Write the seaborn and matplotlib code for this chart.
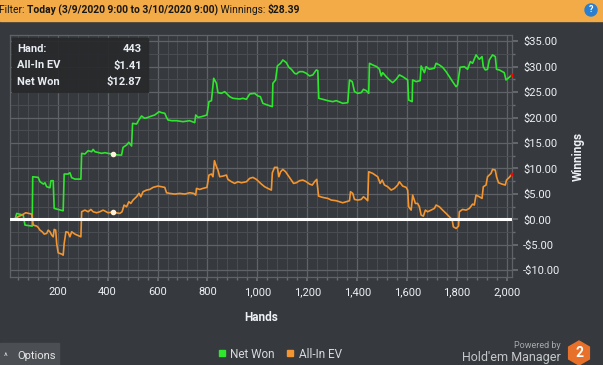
import matplotlib
matplotlib.use("Agg")
import matplotlib.pyplot as plt
import matplotlib.ticker as mticker
from matplotlib.lines import Line2D
from matplotlib.patches import Rectangle, RegularPolygon, Circle
import pandas as pd
import seaborn as sns

# data
NET_WON_HANDS = [9, 29, 36, 62, 69, 98, 100, 122, 129, 143, 149, 156, 169, 173, 182, 186, 202, 222,
                 226, 242, 249, 256, 269, 293, 296, 309, 322, 336, 342, 349, 376, 389, 402, 418, 442,
                 456, 462, 476, 485, 496, 500, 516, 525, 536, 549, 562, 576, 589, 606, 616, 629, 636,
                 642, 656, 676, 702, 729, 749, 753, 762, 776, 798, 806, 816, 825, 836, 842, 856, 869,
                 876, 889, 902, 929, 942, 956, 969, 989, 1002, 1012, 1022, 1036, 1060, 1062, 1073,
                 1080, 1093, 1102, 1116, 1126, 1136, 1149, 1156, 1169, 1182, 1196, 1209, 1222, 1236,
                 1242, 1246, 1262, 1282, 1302, 1316, 1342, 1362, 1369, 1380, 1389, 1402, 1416, 1425,
                 1436, 1446, 1449, 1462, 1478, 1489, 1496, 1502, 1516, 1529, 1542, 1556, 1569, 1582,
                 1602, 1606, 1620, 1622, 1636, 1652, 1656, 1669, 1676, 1689, 1709, 1716, 1729, 1742,
                 1756, 1769, 1782, 1796, 1802, 1812, 1829, 1842, 1853, 1862, 1876, 1889, 1900, 1905,
                 1913, 1922, 1929, 1942, 1953, 1958, 1969, 1989, 1996, 2009, 2020]
NET_WON = [0.0, 0.0, 1.18, 0.85, -1.11, -1.31, 8.38, 8.25, 7.40, 6.94, 7.20, 6.42, 6.22, 7.60, 7.60,
           2.16, 1.96, 1.70, 8.91, 8.91, 9.17, 8.19, 7.92, 7.92, 12.97, 12.84, 13.49, 13.29, 13.75,
           13.29, 12.97, 13.10, 12.97, 12.84, 12.64, 12.64, 14.15, 14.60, 15.13, 14.41, 18.86, 18.73,
           19.52, 20.30, 19.84, 20.04, 20.30, 20.50, 21.15, 20.96, 20.83, 20.04, 19.52, 19.38, 19.38,
           19.19, 19.38, 18.99, 20.50, 20.04, 20.17, 20.50, 23.12, 23.31, 27.70, 26.72, 24.89, 24.75,
           25.08, 24.75, 24.10, 23.77, 23.64, 23.77, 23.58, 24.62, 24.75, 24.23, 24.10, 22.79, 22.53,
           22.13, 26.72, 27.37, 30.12, 30.65, 31.30, 30.78, 29.86, 29.47, 28.68, 28.55, 29.01, 29.01,
           28.68, 28.16, 28.36, 29.34, 29.21, 23.77, 23.58, 23.31, 23.12, 23.31, 22.79, 22.92, 27.37,
           27.05, 25.08, 24.75, 24.89, 25.54, 25.28, 24.75, 30.65, 30.32, 29.99, 29.47, 28.16, 28.81,
           28.03, 27.37, 26.85, 27.50, 28.36, 28.03, 27.37, 23.44, 23.12, 27.37, 27.05, 27.24, 30.12,
           28.81, 29.99, 29.47, 29.67, 30.65, 30.32, 29.86, 29.01, 28.03, 27.05, 26.06, 26.39, 29.86,
           29.99, 29.47, 30.98, 30.65, 32.29, 31.43, 31.96, 29.99, 29.34, 29.47, 31.30, 32.29, 31.96,
           29.47, 29.34, 28.81, 27.37, 27.90, 28.39]

ALLIN_HANDS = [9, 29, 40, 56, 72, 96, 102, 116, 122, 129, 138, 146, 156, 162, 169, 176, 182, 186, 192,
               196, 202, 216, 222, 226, 233, 242, 249, 256, 269, 293, 296, 309, 322, 333, 342, 356,
               369, 382, 402, 418, 449, 458, 466, 476, 485, 493, 502, 516, 526, 533, 542, 556, 569,
               582, 602, 616, 629, 636, 649, 669, 689, 709, 729, 745, 753, 756, 769, 782, 798, 806,
               816, 822, 828, 836, 842, 849, 862, 876, 882, 896, 909, 922, 936, 956, 969, 982, 996,
               1006, 1016, 1029, 1042, 1056, 1060, 1069, 1080, 1086, 1093, 1102, 1113, 1122, 1136,
               1145, 1156, 1169, 1182, 1196, 1209, 1220, 1229, 1238, 1245, 1262, 1282, 1296, 1316,
               1342, 1356, 1369, 1373, 1382, 1389, 1402, 1416, 1425, 1433, 1442, 1446, 1462, 1482,
               1492, 1500, 1509, 1522, 1536, 1549, 1562, 1569, 1582, 1596, 1602, 1606, 1616, 1622,
               1633, 1642, 1649, 1656, 1665, 1673, 1682, 1696, 1709, 1716, 1729, 1742, 1756, 1769,
               1780, 1785, 1796, 1806, 1809, 1822, 1836, 1849, 1862, 1869, 1876, 1889, 1900, 1905,
               1916, 1922, 1936, 1942, 1953, 1958, 1966, 1980, 1993, 1998, 2009, 2020]
ALLIN_EV = [0.0, 0.0, 0.52, 0.85, 1.31, 1.05, -1.11, -1.31, -1.57, -2.10, -2.42, -2.88, -2.75, -2.10,
            -2.42, -3.08, -3.41, -1.96, -2.10, -4.72, -6.55, -6.81, -7.01, -4.72, -2.42, -2.55, -3.41,
            -2.42, -2.88, -3.41, 1.51, 1.83, 1.51, 1.96, 1.51, 1.31, 1.51, 1.83, 1.31, 1.44, 1.18,
            1.51, 2.82, 2.49, 3.47, 3.14, 3.80, 4.45, 5.11, 4.45, 5.44, 5.76, 5.89, 6.29, 6.55, 6.42,
            6.29, 5.24, 5.11, 4.98, 5.11, 4.98, 5.24, 5.11, 4.78, 6.09, 5.89, 6.09, 6.29, 8.71, 8.91,
            8.38, 11.53, 10.35, 9.69, 8.38, 8.51, 8.71, 7.86, 7.40, 7.07, 7.40, 7.20, 7.40, 8.06,
            8.25, 7.86, 7.40, 6.94, 6.42, 6.09, 5.76, 9.17, 10.22, 10.22, 8.38, 9.36, 9.82, 9.36,
            8.71, 7.73, 7.07, 7.20, 7.60, 7.73, 7.40, 6.94, 6.75, 7.40, 7.86, 4.58, 4.32, 4.13,
            3.80, 3.67, 3.27, 3.47, 3.67, 5.44, 5.11, 3.93, 3.80, 3.93, 4.45, 4.13, 3.67, 9.36,
            9.04, 8.38, 7.07, 7.73, 6.75, 6.42, 5.76, 6.09, 6.75, 7.40, 6.55, 6.29, 5.76, 2.49,
            1.83, 4.78, 3.14, 3.14, 2.49, 0.85, 0.65, 1.83, 1.51, 1.83, 2.16, 2.82, 2.49, 1.83,
            1.18, 0.52, 0.0, -1.44, -1.77, -1.31, 1.51, 1.96, 1.83, 2.16, 3.01, 2.82, 4.78, 4.45,
            4.13, 6.42, 6.75, 8.38, 9.04, 9.82, 9.69, 8.38, 7.20, 6.94, 6.75, 7.73, 8.25, 8.91]

X_TICKS = [200, 400, 600, 800, 1000, 1200, 1400, 1600, 1800, 2000]
Y_TICKS = [-10, -5, 0, 5, 10, 15, 20, 25, 30, 35]
SERIES = ["Net Won", "All-In EV"]

HOVER_HAND = 443      # value shown in the tooltip
HOVER_X = 421         # where the markers sit in the picture
HOVER_EV = 1.41
HOVER_NET = 12.87
WINNINGS = 28.39

W, H = 603, 365
BG = "#36393d"
GREEN = "#2ee62e"
ORANGE = "#f39530"
FONT = ["Roboto", "DejaVu Sans"]


def px(x, y):
    return x / W, 1 - y / H


def inch(x, y):
    return x / 100, (H - y) / 100


def chain_text(fig, x, y, parts, **kw):
    renderer = fig.canvas.get_renderer()
    xf, yf = px(x, y)
    for s, weight in parts:
        t = fig.text(xf, yf, s, fontweight=weight, ha="left", va="center", **kw)
        xf = t.get_window_extent(renderer).x1 / W


sns.set_theme(style="dark")
plt.rcParams["font.family"] = FONT

fig = plt.figure(figsize=(W / 100, H / 100), dpi=100)
fig.patch.set_facecolor(BG)

# top filter bar
fig.add_artist(Rectangle(px(0, 21), 1, 21 / H, transform=fig.transFigure, color="#f2ab47", zorder=0))
chain_text(fig, -1, 10, [("Filter: ", "normal"), ("Today (3/9/2020 9:00 to 3/10/2020 9:00)", "bold"),
                         (" Winnings: ", "normal"), (f"${WINNINGS:.2f}", "bold")],
           fontsize=7.4, color="#161616")
fig.add_artist(Circle(inch(591, 10), 0.06, transform=fig.dpi_scale_trans, color="#2a7fd0"))
fig.text(*px(591, 10), "?", ha="center", va="center", color="white", fontsize=6.5, fontweight="bold")

ax = fig.add_axes([10 / W, 1 - 277 / H, 502 / W, 242 / H])
ax.set_facecolor(BG)

nw = pd.DataFrame({"hand": NET_WON_HANDS, "won": NET_WON})
ev = pd.DataFrame({"hand": ALLIN_HANDS, "won": ALLIN_EV})
sns.lineplot(data=nw, x="hand", y="won", ax=ax, color=GREEN, linewidth=1.2,
             sort=False, estimator=None, legend=False, zorder=3)
sns.lineplot(data=ev, x="hand", y="won", ax=ax, color=ORANGE, linewidth=1.2,
             sort=False, estimator=None, legend=False, zorder=3)
ax.axhline(0, color="white", linewidth=2.2, zorder=4)

ax.scatter([HOVER_X, HOVER_X], [HOVER_NET, HOVER_EV], s=9, color="#fff3dc", zorder=5)
ax.scatter([NET_WON_HANDS[-1], ALLIN_HANDS[-1]], [NET_WON[-1], ALLIN_EV[-1]], s=3, color="red", zorder=5)

ax.set_xlim(9, 2020)
ax.set_ylim(-11.3, 36.2)
ax.set_xticks(X_TICKS)
ax.set_yticks(Y_TICKS)
ax.xaxis.set_minor_locator(mticker.MultipleLocator(40))
ax.yaxis.set_minor_locator(mticker.MultipleLocator(2.5))
ax.xaxis.set_major_formatter(mticker.FuncFormatter(lambda v, p: f"{int(v):,}"))
ax.yaxis.set_major_formatter(mticker.FuncFormatter(lambda v, p: f"-${abs(v):.2f}" if v < 0 else f"${v:.2f}"))
ax.yaxis.tick_right()
ax.yaxis.set_label_position("right")
ax.grid(which="major", color="#5f6368", linewidth=0.9)
ax.grid(which="minor", color="#4a4e53", linewidth=0.7)
ax.tick_params(which="both", colors="#6a6e73", labelcolor="#eef2f7", labelsize=8)
ax.tick_params(axis="y", which="major", length=4, pad=4, direction="out", right=True, left=False)
ax.tick_params(axis="y", which="minor", length=2, right=True, left=False)
ax.tick_params(axis="x", which="major", length=3, pad=4, bottom=True)
ax.tick_params(axis="x", which="minor", length=2, bottom=True)
for s in ax.spines.values():
    s.set_color("#5f6368")
    s.set_linewidth(0.9)

ax.set_xlabel("Hands", color="#eef2f7", fontweight="bold", fontsize=8.5, labelpad=10)
ax.set_ylabel("Winnings", color="#eef2f7", fontweight="bold", fontsize=8.5, labelpad=8, rotation=90)

# hover tooltip
fig.add_artist(Rectangle(px(12, 92), 136 / W, 54 / H, transform=fig.transFigure,
                         color="#27292b", alpha=0.92, zorder=10))
rows = [("Hand:", f"{HOVER_HAND}"), ("All-In EV", f"${HOVER_EV:.2f}"), ("Net Won", f"${HOVER_NET:.2f}")]
for i, (k, v) in enumerate(rows):
    y = 49 + i * 16.5
    fig.text(*px(17, y), k, ha="left", va="center", color="#e8ecf2", fontsize=8, fontweight="bold", zorder=11)
    fig.text(*px(142, y), v, ha="right", va="center", color="#e8ecf2", fontsize=8, fontweight="bold", zorder=11)

# legend
handles = [Line2D([], [], marker="s", linestyle="", color=c, markersize=5) for c in (GREEN, ORANGE)]
fig.legend(handles, SERIES, loc="center", bbox_to_anchor=px(279, 354), ncol=2, frameon=False,
           fontsize=8.5, labelcolor="#d8dadd", handletextpad=0.2, columnspacing=0.8, handlelength=1.0)

# options button
fig.add_artist(Rectangle(px(0, 365), 59 / W, 22 / H, transform=fig.transFigure, color="#4b4e53"))
fig.text(*px(4, 356), "^", color="#e0e0e0", fontsize=6.5, va="center")
fig.text(*px(17, 356), "Options", color="#e6e6e6", fontsize=8, va="center")

# branding
fig.text(*px(561, 345), "Powered by", ha="right", va="center", color="#a7a9ac", fontsize=6.5)
fig.text(*px(561, 357), "Hold'em Manager", ha="right", va="center", color="#c5c7ca", fontsize=9)
fig.add_artist(RegularPolygon(inch(579, 353), numVertices=6, radius=0.12, orientation=0,
                              transform=fig.dpi_scale_trans, color="#e7702b"))
fig.text(*px(579, 353), "2", ha="center", va="center", color="white", fontsize=10, fontweight="bold")

fig.savefig("out.png", dpi=100, facecolor=fig.get_facecolor())
